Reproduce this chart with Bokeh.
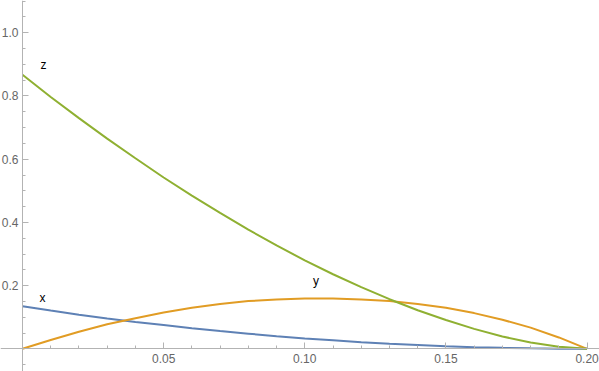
from bokeh.plotting import figure
from bokeh.models import Range1d, FixedTicker, PrintfTickFormatter, ColumnDataSource
from bokeh.core.properties import value
from bokeh.embed import file_html
from bokeh.resources import INLINE

# ---- data ----
t = [0.00, 0.01, 0.02, 0.03, 0.04, 0.05, 0.06, 0.07, 0.08, 0.09, 0.10,
     0.11, 0.12, 0.13, 0.14, 0.15, 0.16, 0.17, 0.18, 0.19, 0.20]
x_vals = [0.135, 0.121, 0.108, 0.096, 0.085, 0.075, 0.065, 0.056, 0.048, 0.040, 0.033,
          0.027, 0.021, 0.016, 0.012, 0.008, 0.005, 0.003, 0.0015, 0.0005, 0.0]
y_vals = [0.0, 0.028, 0.054, 0.078, 0.097, 0.115, 0.130, 0.142, 0.151, 0.156, 0.159,
          0.159, 0.156, 0.151, 0.142, 0.130, 0.113, 0.092, 0.067, 0.036, 0.0]
z_vals = [0.867, 0.797, 0.730, 0.665, 0.603, 0.542, 0.485, 0.430, 0.377, 0.327, 0.280,
          0.236, 0.195, 0.157, 0.122, 0.091, 0.063, 0.039, 0.020, 0.0066, 0.0]

series_names = ["x", "y", "z"]
label_t = [0.0071, 0.104, 0.0074]
label_v = [0.162, 0.213, 0.897]

x_major = [0.05, 0.10, 0.15, 0.20]
x_minor = [round(0.01 * i, 2) for i in range(1, 21) if i % 5 != 0]
y_major = [0.2, 0.4, 0.6, 0.8, 1.0]
y_minor = [round(0.05 * i, 2) for i in range(-1, 23) if i % 4 != 0]

colors = ["#5E81B5", "#E19C24", "#8FB032"]

p = figure(width=599, height=371, output_backend="svg", toolbar_location=None,
           x_range=Range1d(-0.00779, 0.2044), y_range=Range1d(-0.0718, 1.1022),
           min_border=0, min_border_left=0, min_border_right=0,
           min_border_top=0, min_border_bottom=0)
p.outline_line_color = None
p.xgrid.visible = False
p.ygrid.visible = False
p.background_fill_color = "white"
p.border_fill_color = "white"

for vals, c in zip([x_vals, y_vals, z_vals], colors):
    p.line(t, vals, line_color=c, line_width=2)

src = ColumnDataSource(dict(t=label_t, v=label_v, txt=series_names))
p.text(x="t", y="v", text="txt", source=src, text_align="center",
       text_baseline="middle", text_font=value("Liberation Sans"),
       text_font_size="12px", text_color="black")

axis_col = "#b3b3b3"
lab_col = "#666666"
for ax in (p.xaxis[0], p.yaxis[0]):
    ax.fixed_location = 0
    ax.axis_line_color = axis_col
    ax.major_tick_line_color = axis_col
    ax.minor_tick_line_color = axis_col
    ax.major_tick_in = 6
    ax.major_tick_out = 0
    ax.minor_tick_in = 3
    ax.minor_tick_out = 0
    ax.major_label_text_color = lab_col
    ax.major_label_text_font = "Liberation Sans"
    ax.major_label_text_font_size = "12px"

p.xaxis[0].ticker = FixedTicker(ticks=x_major, minor_ticks=x_minor)
p.yaxis[0].ticker = FixedTicker(ticks=y_major, minor_ticks=y_minor)
p.xaxis[0].formatter = PrintfTickFormatter(format="%.2f")
p.yaxis[0].formatter = PrintfTickFormatter(format="%.1f")
p.xaxis[0].major_label_standoff = 5
p.yaxis[0].major_label_standoff = 4

open("out.html", "w").write(file_html(p, INLINE))
